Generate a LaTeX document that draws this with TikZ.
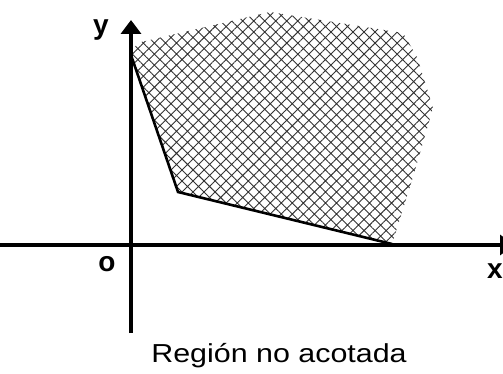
\documentclass[tikz,border=0pt]{standalone}
\usepackage{fontspec}
\setmainfont{Liberation Sans}
\usetikzlibrary{arrows.meta,patterns.meta}

\begin{document}
\begin{tikzpicture}[x=1pt, y=-1pt, >={Triangle[width=20pt,length=14pt]},
  axis/.style={line width=3.5pt},
  edge/.style={line width=2.6pt},
  lab/.style={font=\fontsize{28}{30}\selectfont\bfseries, inner sep=0pt},
  region/.style={pattern={Hatch[angle=45,distance=7.8pt,line width=0.9pt]}, pattern color=black!80},
]
  \useasboundingbox (0,0) rectangle (503,374);
  \clip (0,0) rectangle (503,374);

  % corner points of the region
  \coordinate (A) at (131,55);
  \coordinate (B) at (178,192);
  \coordinate (C) at (392,244);

  % unbounded region
  \fill[region] (A) -- (B) -- (C) -- (413,177) -- (433,108) -- (417,57)
    -- (403,33) -- (270,12) -- (137,43) -- cycle;

  % axes
  \coordinate (xstart) at (0,245);
  \coordinate (xend) at (514,245);
  \coordinate (ytop) at (131,20);
  \coordinate (ybot) at (131,333);
  \draw[axis,->] (xstart) -- (xend);
  \draw[axis,->] (ybot) -- (ytop);

  % boundary lines
  \draw[edge] (A) -- (B) -- (C);

  \node[lab] (ylab) at (101,30) {y};
  \node[lab] (xlab) at (495,271) {x};
  \node[lab] (olab) at (107,264) {o};
  \node (caption) at (279,356) {\fontsize{26}{30}\selectfont\scalebox{1.17}[1]{Región no acotada}};
\end{tikzpicture}
\end{document}
